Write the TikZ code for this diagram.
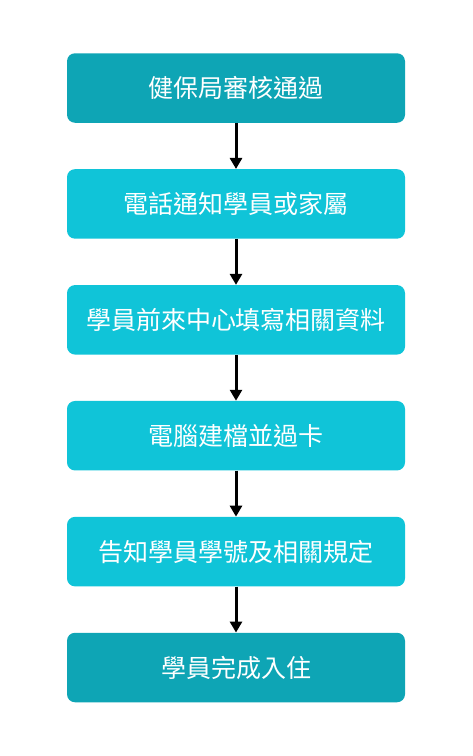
\documentclass[tikz,border=0pt]{standalone}
\usepackage{fontspec}
\setmainfont{Noto Sans CJK TC}
\usetikzlibrary{positioning, arrows.meta}

\definecolor{darkTeal}{HTML}{0EA5B5}
\definecolor{lightTeal}{HTML}{10C4D8}

\tikzset{
    stepbox/.style={rectangle, rounded corners=8pt, minimum width=338pt,
        minimum height=69.5pt, inner sep=0pt, text=white,
        font=\fontsize{25}{30}\selectfont},
    flow/.style={-{Triangle[length=11pt, width=12pt]}, line width=3pt, black}
}

\begin{document}
\begin{tikzpicture}[x=1pt, y=1pt, node distance=46pt]
        \pgfmathsetmacro{\pageX}{473}
        \pgfmathsetmacro{\pageY}{756}

        \useasboundingbox (0, 0) rectangle (\pageX, -\pageY);

        \node[stepbox, fill=darkTeal] (approve) at (236, -88) {健保局審核通過};
        \node[stepbox, fill=lightTeal, below=of approve] (notify) {電話通知學員或家屬};
        \node[stepbox, fill=lightTeal, below=of notify] (fill) {學員前來中心填寫相關資料};
        \node[stepbox, fill=lightTeal, below=of fill] (record) {電腦建檔並過卡};
        \node[stepbox, fill=lightTeal, below=of record] (rules) {告知學員學號及相關規定};
        \node[stepbox, fill=darkTeal, below=of rules] (checkin) {學員完成入住};

        \draw[flow] (approve) -- (notify);
        \draw[flow] (notify) -- (fill);
        \draw[flow] (fill) -- (record);
        \draw[flow] (record) -- (rules);
        \draw[flow] (rules) -- (checkin);
    \end{tikzpicture}
\end{document}
